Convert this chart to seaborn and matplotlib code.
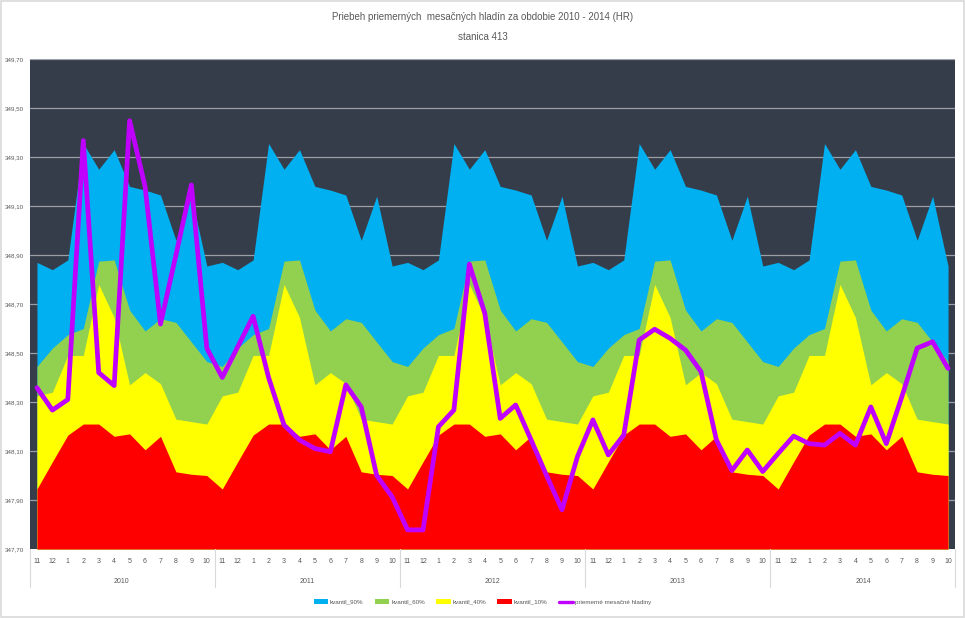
import numpy as np
import pandas as pd
import matplotlib
matplotlib.use("Agg")
import matplotlib.pyplot as plt
import matplotlib.transforms as mtransforms
from matplotlib.patches import Rectangle
from matplotlib.lines import Line2D
from matplotlib.ticker import FuncFormatter
import seaborn as sns

# ---------- DATA ----------
years = ["2010", "2011", "2012", "2013", "2014"]
months = ["11", "12", "1", "2", "3", "4", "5", "6", "7", "8", "9", "10"]

# monthly quantiles (same for every hydrological year)
q90_month = [348.87, 348.84, 348.88, 349.355, 349.25, 349.33, 349.18, 349.165, 349.145, 348.96, 349.14, 348.855]
q60_month = [348.445, 348.52, 348.575, 348.60, 348.875, 348.88, 348.675, 348.59, 348.64, 348.625, 348.545, 348.465]
q40_month = [348.325, 348.34, 348.49, 348.49, 348.78, 348.645, 348.37, 348.42, 348.375, 348.23, 348.22, 348.21]
q10_month = [347.945, 348.056, 348.165, 348.21, 348.21, 348.16, 348.17, 348.105, 348.16, 348.015, 348.005, 348.0]

# mean monthly levels
mean_2010 = [348.358, 348.267, 348.31, 349.367, 348.42, 348.367, 349.448, 349.18, 348.618, 348.90, 349.186, 348.52]
mean_2011 = [348.40, 348.525, 348.65, 348.40, 348.206, 348.145, 348.11, 348.097, 348.37, 348.28, 348.0, 347.913]
mean_2012 = [347.778, 347.778, 348.199, 348.267, 348.863, 348.662, 348.233, 348.288, 348.145, 348.0, 347.86, 348.077]
mean_2013 = [348.227, 348.084, 348.165, 348.553, 348.597, 348.56, 348.512, 348.424, 348.145, 348.02, 348.104, 348.016]
mean_2014 = [348.09, 348.161, 348.13, 348.124, 348.172, 348.124, 348.28, 348.13, 348.32, 348.52, 348.546, 348.437]

n_years = len(years)
df = pd.DataFrame({
    "idx": np.arange(12 * n_years),
    "month": months * n_years,
    "q90": q90_month * n_years,
    "q60": q60_month * n_years,
    "q40": q40_month * n_years,
    "q10": q10_month * n_years,
    "mean": mean_2010 + mean_2011 + mean_2012 + mean_2013 + mean_2014,
})

# ---------- STYLE ----------
sns.set_theme(style="dark")
plt.rcParams["font.family"] = ["Liberation Sans", "DejaVu Sans"]
txt_color = "#595959"
ymin, ymax = 347.70, 349.70

fig = plt.figure(figsize=(9.65, 6.18), dpi=100)
fig.patch.set_facecolor("white")
ax = fig.add_axes([30 / 965, 1 - 549 / 618, 925 / 965, 490 / 618])
ax.set_facecolor("#363D4A")

# grid lines behind the areas
for v in np.arange(ymin + 0.2, ymax, 0.2):
    ax.axhline(v, color="#9a9ea6", lw=0.9, zorder=0.5)

# ---------- AREAS ----------
areas = [("q90", "#00B0F0", "kvantil_90%"),
         ("q60", "#92D050", "kvantil_60%"),
         ("q40", "#FFFF00", "kvantil_40%"),
         ("q10", "#FF0000", "kvantil_10%")]
for col, color, label in areas:
    ax.fill_between(df["idx"], ymin, df[col], color=color, lw=0, label=label, zorder=1)

# ---------- MEAN LINE ----------
line_color = "#BF00FF"
sns.lineplot(data=df, x="idx", y="mean", color=line_color, lw=3.4,
             label="priemerné mesačné hladiny", ax=ax, zorder=3)

# ---------- AXES ----------
ax.set_xlim(-0.45, len(df) - 1 + 0.45)
ax.set_ylim(ymin, ymax)
ax.set_yticks(np.round(np.arange(ymin, ymax + 0.01, 0.2), 2))
ax.yaxis.set_major_formatter(FuncFormatter(lambda v, p: f"{v:.2f}".replace(".", ",")))
ax.set_xticks(df["idx"])
ax.set_xticklabels(df["month"])
ax.tick_params(axis="x", length=0, pad=6.5, labelsize=5, colors=txt_color)
ax.tick_params(axis="y", length=0, pad=4.3, labelsize=4.5, colors=txt_color)
ax.set_xlabel("")
ax.set_ylabel("")
ax.grid(False)
for s in ax.spines.values():
    s.set_visible(False)

# year groups under the month labels
trans = mtransforms.blended_transform_factory(ax.transData, ax.transAxes)
for k, yr in enumerate(years):
    ax.text(12 * k + 5.5, -0.067, yr, transform=trans, ha="center", va="center",
            fontsize=5, color=txt_color)
for k in range(n_years + 1):
    xs = 12 * k - 0.5
    xs = min(max(xs, -0.45), len(df) - 1 + 0.45)
    ax.plot([xs, xs], [0, -0.078], transform=trans, color="#d9d9d9", lw=0.8, clip_on=False)

# ---------- TITLE ----------
fig.text(0.5, 1 - 17 / 618, "Priebeh priemerných  mesačných hladín za obdobie 2010 - 2014 (HR)",
         ha="center", va="center", fontsize=7, color=txt_color)
fig.text(0.5, 1 - 37 / 618, "stanica 413", ha="center", va="center", fontsize=7, color=txt_color)

# ---------- LEGEND ----------
handles, labels = ax.get_legend_handles_labels()
ax.legend_.remove()
handles[-1] = Line2D([], [], color=line_color, lw=2.4)
fig.legend(handles, labels, loc="center", bbox_to_anchor=(0.5, 1 - 602 / 618), ncol=5,
           frameon=False, fontsize=4.5, labelcolor=txt_color, handlelength=2.3,
           handleheight=0.7, handletextpad=0.3, columnspacing=1.8)

# figure border
fig.add_artist(Rectangle((0.001, 0.001), 0.998, 0.997, transform=fig.transFigure,
                         fill=False, edgecolor="#d9d9d9", lw=1.2))

fig.savefig("out.png", dpi=100)
